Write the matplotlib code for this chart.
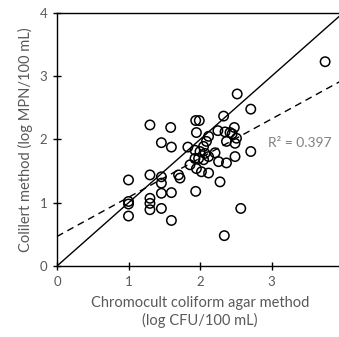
import numpy as np
import matplotlib.pyplot as plt

# Chromocult (log CFU/100 mL) vs Colilert (log MPN/100 mL)
chromocult = [3.75, 2.52, 2.71, 2.33, 1.30, 1.59, 1.94, 1.99, 1.95, 2.12,
              2.25, 2.35, 2.42, 2.48, 2.45, 2.51, 2.49, 2.37, 2.71, 1.46,
              1.60, 1.83, 1.93, 2.00, 2.05, 2.09, 2.07, 1.98, 2.05, 2.12,
              2.21, 1.93, 1.86, 1.95, 2.02, 2.12, 2.26, 2.37, 2.49, 2.28,
              1.70, 1.72, 1.00, 1.30, 1.46, 1.46, 1.00, 1.00, 1.00, 1.30,
              1.30, 1.30, 1.46, 1.46, 1.60, 1.60, 1.94, 2.57, 2.34]
colilert = [3.23, 2.72, 2.48, 2.37, 2.23, 2.19, 2.30, 2.30, 2.11, 2.05,
            2.14, 2.12, 2.11, 2.19, 2.09, 2.02, 1.94, 1.97, 1.81, 1.95,
            1.88, 1.88, 1.83, 1.81, 1.89, 1.97, 1.78, 1.70, 1.68, 1.73,
            1.79, 1.70, 1.60, 1.54, 1.49, 1.47, 1.65, 1.63, 1.73, 1.33,
            1.44, 1.39, 1.36, 1.44, 1.41, 1.31, 1.02, 0.98, 0.79, 1.07,
            0.99, 0.89, 1.15, 0.91, 1.16, 0.72, 1.18, 0.91, 0.48]
r2_label = 'R² = 0.397'

grey = '#595959'
plt.rcParams['font.family'] = ['Lato', 'DejaVu Sans']

fig = plt.figure(figsize=(3.39, 3.37), dpi=100)
# right edge of the plot box runs past the image, as in the original crop
ax = fig.add_axes([57 / 339, 71 / 337, 286 / 339, 253 / 337])

x = np.array(chromocult)
y = np.array(colilert)
slope, intercept = np.polyfit(x, y, 1)

xx = np.array([0, 4])
ax.plot(xx, xx, color='black', lw=1.0)
ax.plot(xx, slope * xx + intercept, color='black', lw=1.0, ls=(0, (5, 3.5)))
ax.scatter(x, y, s=46, facecolors='none', edgecolors='black', linewidths=1.1, zorder=3)

ax.text(2.95, 1.95, r2_label, color='#808080', fontsize=10, va='center')

ax.set_xlim(0, 4)
ax.set_ylim(0, 4)
ax.set_xticks([0, 1, 2, 3])
ax.set_yticks([0, 1, 2, 3, 4])
ax.tick_params(direction='inout', length=6, width=1, colors='black', labelcolor=grey, labelsize=9.5, pad=4)
for s in ax.spines.values():
    s.set_linewidth(1.0)

ax.set_xlabel('Chromocult coliform agar method\n(log CFU/100 mL)', color=grey, fontsize=10.5, labelpad=6, linespacing=1.25)
ax.set_ylabel('Colilert method (log MPN/100 mL)', color=grey, fontsize=10.5, labelpad=5)

fig.savefig('out.png', dpi=100)
